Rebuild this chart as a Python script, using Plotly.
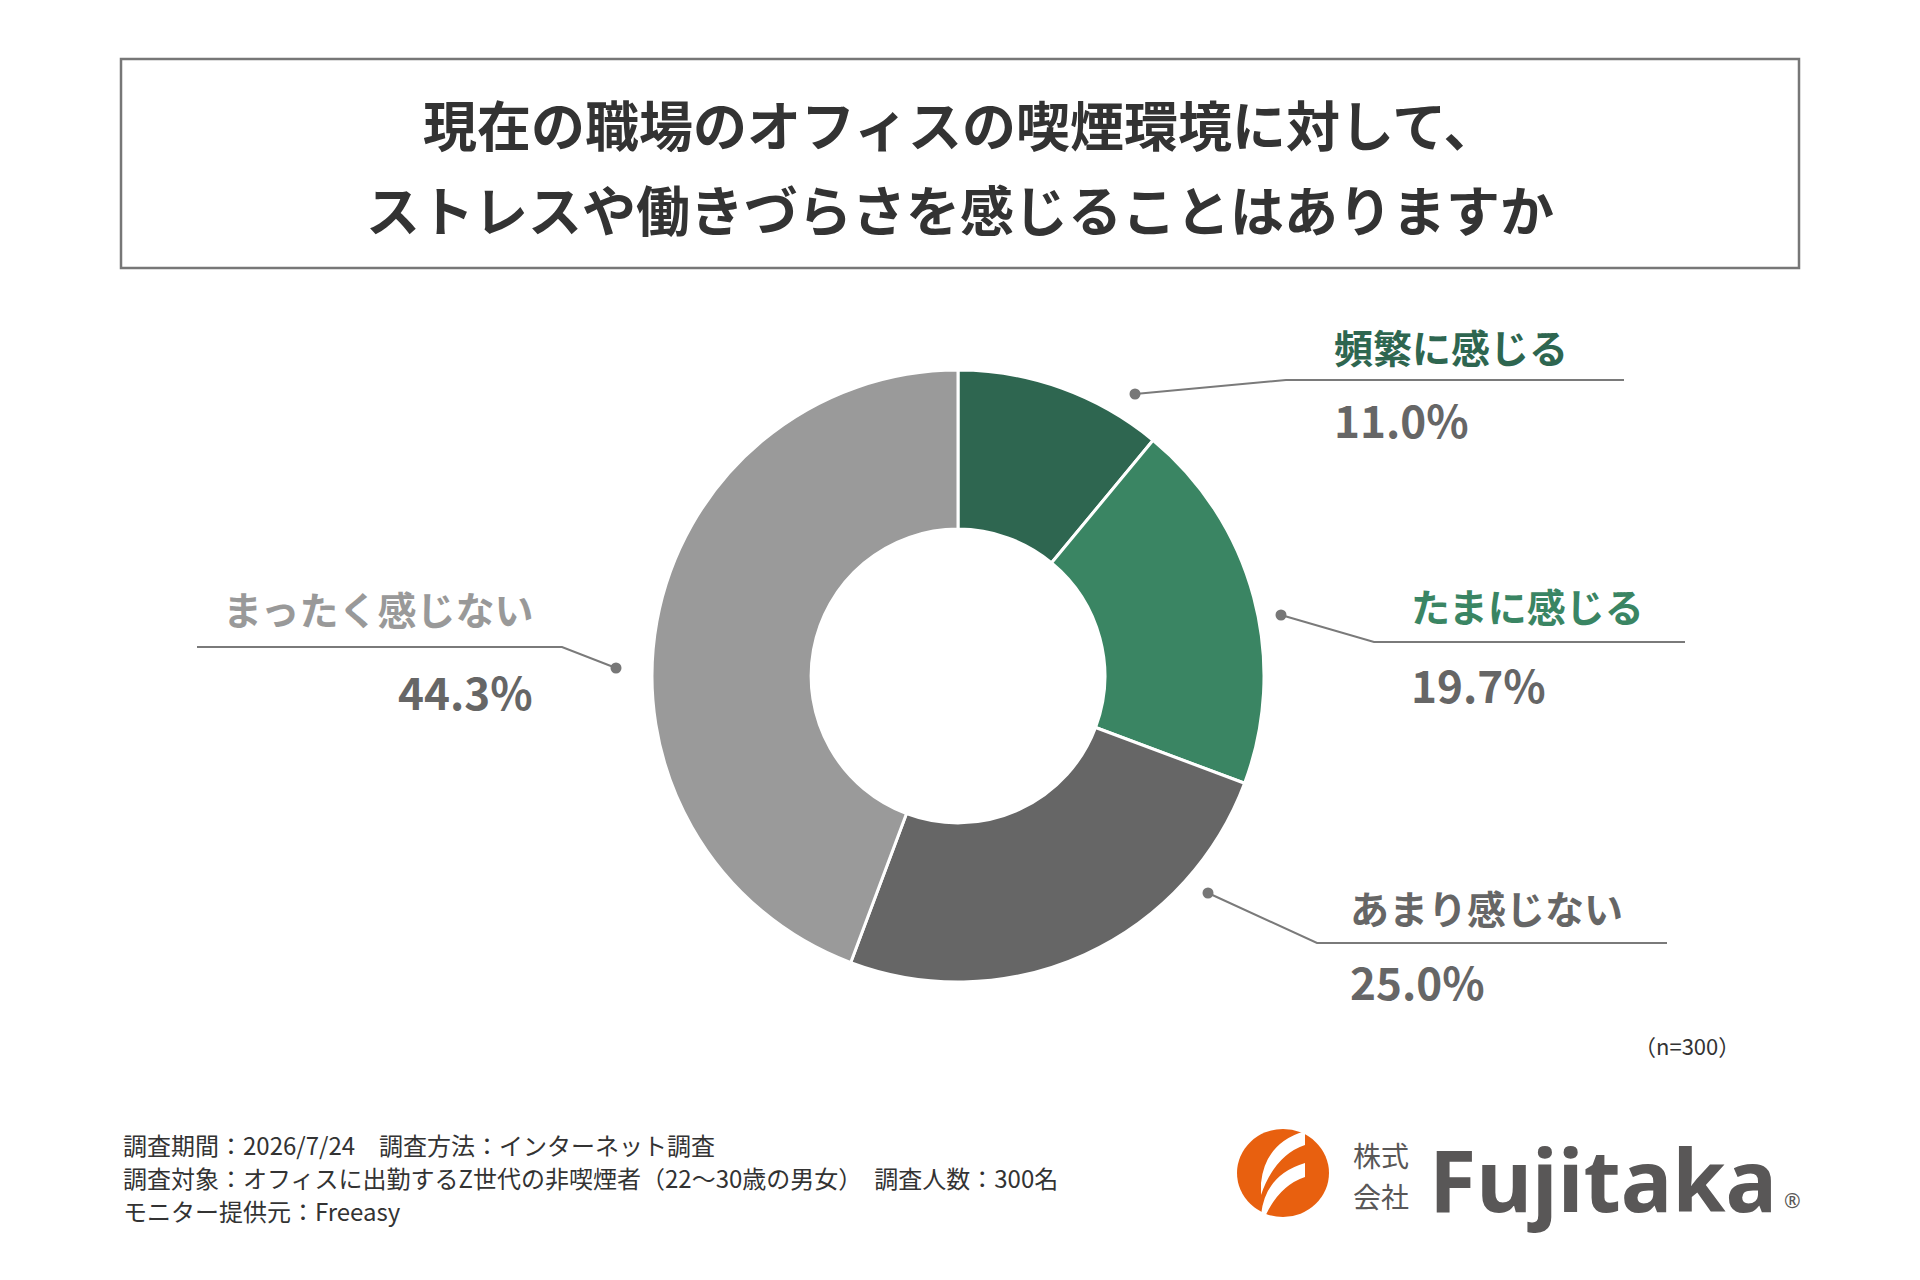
import plotly.graph_objects as go

W, H = 1920, 1280
OFF = 8  # ページ本体の余白

# データ
title_lines = ["現在の職場のオフィスの喫煙環境に対して、",
               "ストレスや働きづらさを感じることはありますか"]
categories = ["頻繁に感じる", "たまに感じる", "あまり感じない", "まったく感じない"]
shares = [11.0, 19.7, 25.0, 44.3]
slice_colors = ["#2e6650", "#3a8563", "#666666", "#9a9a9a"]
label_colors = ["#2e6650", "#3a8563", "#666666", "#999999"]
footer_lines = [
    "調査期間：2026/7/24　調査方法：インターネット調査",
    "調査対象：オフィスに出勤するZ世代の非喫煙者（22～30歳の男女）　調査人数：300名",
    "モニター提供元：Freeasy",
]
sample_note = "（n=300）"

FONT = "Noto Sans CJK JP"


def px(x):
    return (x - OFF) / W


def py(y):
    return 1 - (y - OFF) / H


# ドーナツの位置 (ピクセル)
cx, cy, r = 958, 676, 306

fig = go.Figure()
fig.add_trace(go.Pie(
    labels=categories, values=shares, hole=0.48, sort=False,
    direction="clockwise", rotation=0,
    marker=dict(colors=slice_colors, line=dict(color="white", width=3)),
    textinfo="none", hoverinfo="label+percent", showlegend=False,
    domain=dict(x=[px(cx - r), px(cx + r)], y=[py(cy + r), py(cy - r)]),
))

shapes = []
annotations = []

# タイトル枠
shapes.append(dict(type="rect", xref="paper", yref="paper",
                   x0=px(121), x1=px(1799), y0=py(59), y1=py(268),
                   line=dict(color="#777777", width=2.5)))
for i, t in enumerate(title_lines):
    annotations.append(dict(x=px(960), y=py([123, 208][i]), text=t,
                            xref="paper", yref="paper", showarrow=False,
                            xanchor="center", yanchor="middle",
                            font=dict(family=FONT, size=54, color="#333333", weight=700)))

# 引き出し線とラベルの配置 (dot, elbow, end, text_x, anchor, label_y, value_y)
callouts = [
    ((1135, 394), (1286, 380), 1624, 1332, "left", 346, 419),
    ((1281, 615), (1374, 642), 1685, 1409, "left", 605, 684),
    ((1208, 893), (1317, 943), 1667, 1348, "left", 907, 981),
    ((616, 668), (562, 647), 197, 535, "right", 608, 691),
]

for k, (dot, elbow, end, tx, anc, ly, vy) in enumerate(callouts):
    path = "M {} {} L {} {} L {} {}".format(
        px(dot[0]), py(dot[1]), px(elbow[0]), py(elbow[1]), px(end), py(elbow[1]))
    shapes.append(dict(type="path", xref="paper", yref="paper", path=path,
                       line=dict(color="#7a7a7a", width=2)))
    shapes.append(dict(type="circle", xref="paper", yref="paper",
                       x0=px(dot[0] - 5.5), x1=px(dot[0] + 5.5),
                       y0=py(dot[1] + 5.5), y1=py(dot[1] - 5.5),
                       fillcolor="#777777", line=dict(width=0)))
    annotations.append(dict(x=px(tx), y=py(ly), text=categories[k],
                            xref="paper", yref="paper", showarrow=False,
                            xanchor=anc, yanchor="middle",
                            font=dict(family=FONT, size=39, color=label_colors[k], weight=700)))
    annotations.append(dict(x=px(tx), y=py(vy), text=f"{shares[k]:.1f}%",
                            xref="paper", yref="paper", showarrow=False,
                            xanchor=anc, yanchor="middle",
                            font=dict(family=FONT, size=44, color="#666666", weight=700)))

annotations.append(dict(x=px(1742), y=py(1045), text=sample_note,
                        xref="paper", yref="paper", showarrow=False,
                        xanchor="right", yanchor="middle",
                        font=dict(family=FONT, size=22, color="#333333")))

for i, t in enumerate(footer_lines):
    annotations.append(dict(x=px(121), y=py([1144, 1177, 1210][i]), text=t,
                            xref="paper", yref="paper", showarrow=False,
                            xanchor="left", yanchor="middle",
                            font=dict(family=FONT, size=24, color="#333333")))

# ロゴ
lx, ly = 1283, 1173
shapes.append(dict(type="circle", xref="paper", yref="paper",
                   x0=px(lx - 46), x1=px(lx + 46), y0=py(ly + 44), y1=py(ly - 44),
                   fillcolor="#e8600f", line=dict(width=0)))


def leaf(pts):
    s = "M {} {}".format(px(pts[0][0]), py(pts[0][1]))
    s += " Q {} {} {} {}".format(px(pts[1][0]), py(pts[1][1]), px(pts[2][0]), py(pts[2][1]))
    s += " L {} {}".format(px(pts[3][0]), py(pts[3][1]))
    s += " Q {} {} {} {} Z".format(px(pts[4][0]), py(pts[4][1]), px(pts[5][0]), py(pts[5][1]))
    return s


for off in (0, 32):
    pts = [(lx - 22, ly + 10 + off), (lx - 18, ly - 30 + off), (lx + 22, ly - 42 + off),
           (lx + 22, ly - 28 + off), (lx - 8, ly - 18 + off), (lx - 22, ly + 22 + off)]
    shapes.append(dict(type="path", xref="paper", yref="paper", path=leaf(pts),
                       fillcolor="white", line=dict(width=0)))

for t, yy in (("株式", 1155), ("会社", 1196)):
    annotations.append(dict(x=px(1410), y=py(yy), text=t, xref="paper", yref="paper",
                            showarrow=False, xanchor="right", yanchor="middle",
                            borderpad=0,
                            font=dict(family=FONT, size=28, color="#595757")))
annotations.append(dict(x=px(1428), y=py(1178), text="Fujitaka", xref="paper", yref="paper",
                        showarrow=False, xanchor="left", yanchor="middle", borderpad=0,
                        font=dict(family="Noto Sans", size=86, color="#595757", weight=700)))
annotations.append(dict(x=px(1792), y=py(1200), text="®", xref="paper", yref="paper",
                        showarrow=False, xanchor="center", yanchor="middle",
                        font=dict(family="Noto Sans", size=20, color="#595757")))

fig.update_layout(
    width=W, height=H,
    margin=dict(l=0, r=0, t=0, b=0),
    paper_bgcolor="white", plot_bgcolor="white",
    shapes=shapes, annotations=annotations,
)

fig.write_html("out.html")
